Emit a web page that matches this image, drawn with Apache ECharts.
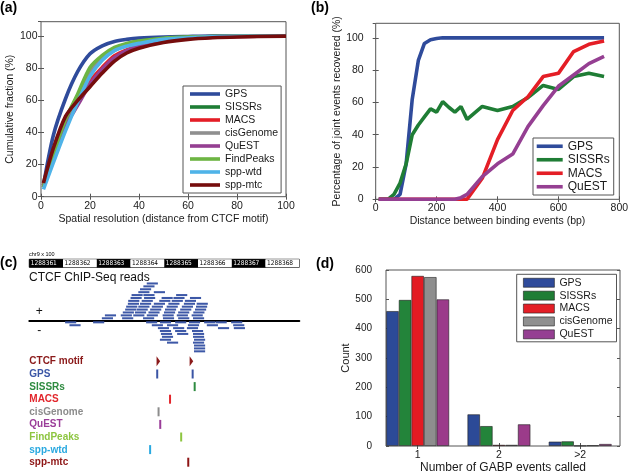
<!DOCTYPE html>
<html><head><meta charset="utf-8">
<script src="https://cdn.jsdelivr.net/npm/echarts@6/dist/echarts.min.js"></script>
<style>html,body{margin:0;padding:0;background:#fff}#c{width:629px;height:472px}</style>
</head><body><div id="c"></div>
<script>
// ---------- Panel (a): cumulative fraction vs spatial resolution ----------
const xA = [1, 5, 10, 15, 20, 25, 30, 35, 40, 50, 60, 70, 80, 100];
const aGPS       = [7, 38, 61, 78, 89, 94, 96.7, 98, 98.8, 99.5, 99.8, 100, 100, 100];
const aSISSRs    = [6, 26, 48, 63, 78.5, 87, 92.4, 95, 96.8, 98.5, 99.3, 99.7, 99.9, 100];
const aMACS      = [7, 27, 46, 60, 72, 80.5, 87.8, 91.5, 94, 97, 98.5, 99.4, 99.8, 100];
const aCisGenome = [6, 25, 46, 62, 77.5, 86, 91.3, 94, 96, 98.3, 99.2, 99.6, 99.9, 100];
const aQuEST     = [6, 24, 44, 57, 70, 79.5, 86.8, 91, 93.8, 97, 98.6, 99.4, 99.8, 100];
const aFindPeaks = [6, 26, 48, 64, 80.5, 88, 93, 95.5, 97, 98.7, 99.4, 99.7, 99.9, 100];
const aSppWtd    = [4.5, 21, 41, 59, 75, 85, 91, 93.8, 95.5, 98, 99, 99.6, 99.9, 100];
const aSppMtc    = [8.5, 30, 50, 60, 68.5, 77, 84.5, 89.5, 92.5, 96, 98, 99, 99.5, 100];
const namesA = ['GPS','SISSRs','MACS','cisGenome','QuEST','FindPeaks','spp-wtd','spp-mtc'];
const valuesA = [aGPS, aSISSRs, aMACS, aCisGenome, aQuEST, aFindPeaks, aSppWtd, aSppMtc];

// ---------- Panel (b): joint events recovered ----------
const xB = [10, 20, 40, 60, 80, 100, 120, 140, 160, 180, 200, 220, 240, 260, 280, 300, 350, 400, 450, 500, 550, 600, 650, 700, 750];
const bGPS    = [0,0,0,0,3,22,62,86,96.5,98.8,99.6,100,100,100,100,100,100,100,100,100,100,100,100,100,100];
const bSISSRs = [0,0,0,3,10,22,40,46,51,56,54,60.5,57,54,57.5,49.5,57.5,55,57.5,63,70.5,68,76,78,76];
const bMACS   = [0,0,0,0,0,0,0,0,0,0,0,0,0,0,0,0,13,37,55,63.5,76,78,91.5,96,98];
const bQuEST  = [0,0,0,0,0,0,0,0,0,0,0,0,0,0,1,3,14,22,28,45,58,70,77,84,88.5];
const namesB = ['GPS','SISSRs','MACS','QuEST'];
const valuesB = [bGPS, bSISSRs, bMACS, bQuEST];

// ---------- Panel (c): CTCF ChIP-Seq reads (bp offset from 1288361 x 100) ----------
const rulerStarts = [0, 100, 200, 300, 400, 500, 600, 700];
const rulerLabels = ['1288361','1288362','1288363','1288364','1288365','1288366','1288367','1288368'];
const readLen = 33;
const plusReads = [
  [215,0],[275,0],[337,0],[396,0],[441,0],[485,0],
  [224,1],[271,1],[308,1],[348,1],[395,1],[437,1],[481,1],
  [277,2],[313,2],[353,2],[399,2],[441,2],[486,2],
  [284,3],[318,3],[358,3],[402,3],[447,3],[491,3],
  [287,4],[323,4],[363,4],[407,4],[452,4],[494,4],
  [292,5],[328,5],[369,5],[412,5],[458,5],[496,5],
  [293,6],[333,6],[385,6],[422,6],[461,6],
  [300,7],[340,7],[392,7],[427,7],[476,7],
  [303,8],[338,8],[435,8],
  [323,9],[369,9],
  [328,10],[338,11],[348,12]
];
const minusReads = [
  [106,0],[189,0],[346,0],[387,0],[432,0],[473,0],[518,0],[552,0],[598,0],
  [119,1],[363,1],[408,1],[470,1],[526,1],[604,1],
  [381,2],[426,2],[467,2],[559,2],[606,2],
  [387,3],[432,3],[482,3],
  [390,4],[438,4],[485,4],
  [393,5],[485,5],
  [387,6],[488,6],
  [408,7],[485,7],
  [488,8],[488,9],[488,10]
];
const toolNames = ['CTCF motif','GPS','SISSRs','MACS','cisGenome','QuEST','FindPeaks','spp-wtd','spp-mtc'];
const toolCalls = [[380,478],[379,484],[490],[417],[383],[388],[450],[358],[471]];

// ---------- Panel (d): number of GABP events called ----------
const groupLabels = ['1','2','>2'];
const groupPos = [1, 2, 3];
const dGPS       = [460, 108, 15];
const dSISSRs    = [498, 68, 16];
const dMACS      = [580, 4, 1];
const dCisGenome = [576, 4, 2];
const dQuEST     = [500, 74, 7];
const namesD = ['GPS','SISSRs','MACS','cisGenome','QuEST'];
const valuesD = [dGPS, dSISSRs, dMACS, dCisGenome, dQuEST];

// ---------- styles ----------
const F = 'Liberation Sans, Arial, Helvetica, sans-serif';
const frameColor = '#555';
const txt = '#1a1a1a';
const lineColors = {'GPS':'#2F4B9B','SISSRs':'#1F7D35','MACS':'#E41E26','cisGenome':'#8F8F8F','QuEST':'#953F92','FindPeaks':'#6DB543','spp-wtd':'#4FB3E8','spp-mtc':'#760D0D'};
const barColors = {'GPS':'#2C4A97','SISSRs':'#23843A','MACS':'#E31B23','cisGenome':'#8E8E8E','QuEST':'#9B3B8A'};
const toolColors = ['#8B1A1A','#3A55A5','#2E8B40','#E2262C','#8C8C8C','#9A3C98','#8DC540','#2AA9E0','#8E1515'];

function tickStyle(){ return {show:true, inside:true, length:3, lineStyle:{color:frameColor, width:1}}; }
function gridBox(l,t,w,h){ return {left:l, top:t, width:w, height:h, show:true, borderColor:frameColor, borderWidth:1, backgroundColor:'transparent', containLabel:false, outerBoundsMode:'none'}; }

const grids = [
  gridBox(41, 21.7, 245, 175),          // a
  gridBox(375.7, 23.3, 243.6, 176),     // b
  Object.assign(gridBox(29.3, 259.3, 270, 8), {borderColor:'#000'}), // c ruler
  {left:29.3, top:279.7, width:270, height:81.2, show:false, outerBoundsMode:'none'},   // c reads
  {left:29.3, top:355.4, width:270, height:113.4, show:false, outerBoundsMode:'none'},  // c calls
  gridBox(386, 270, 234, 176)           // d
];

const nameStyle = {fontSize:10.5, color:txt, fontFamily:F};

const xAxes = [
  {gridIndex:0, type:'value', min:0, max:100, interval:20, position:'bottom', axisLine:{show:false}, splitLine:{show:false},
   axisTick:tickStyle(), axisLabel:{fontSize:10.5, color:txt, margin:4},
   name:'Spatial resolution (distance from CTCF motif)', nameLocation:'middle', nameGap:17, nameTextStyle:nameStyle},
  {gridIndex:0, type:'value', min:0, max:100, interval:20, position:'top', axisLine:{show:false}, splitLine:{show:false},
   axisTick:tickStyle(), axisLabel:{show:false}},
  {gridIndex:1, type:'value', min:0, max:800, interval:200, position:'bottom', axisLine:{show:false}, splitLine:{show:false},
   axisTick:tickStyle(), axisLabel:{fontSize:10.5, color:txt, margin:3},
   name:'Distance between binding events (bp)', nameLocation:'middle', nameGap:16, nameTextStyle:nameStyle},
  {gridIndex:1, type:'value', min:0, max:800, interval:200, position:'top', axisLine:{show:false}, splitLine:{show:false},
   axisTick:tickStyle(), axisLabel:{show:false}},
  {gridIndex:2, type:'value', min:0, max:800, show:false},
  {gridIndex:3, type:'value', min:0, max:800, axisLine:{show:true, onZero:true, lineStyle:{color:'#000', width:2}},
   axisTick:{show:false}, axisLabel:{show:false}, splitLine:{show:false}},
  {gridIndex:4, type:'value', min:0, max:800, show:false},
  {gridIndex:5, type:'value', min:0.61, max:3.49, position:'bottom', axisLine:{show:false}, splitLine:{show:false},
   axisTick:{show:true, inside:true, length:3, lineStyle:{color:frameColor}, customValues:groupPos},
   axisLabel:{fontSize:10.5, color:txt, margin:4, customValues:groupPos, formatter:(v)=>groupLabels[groupPos.indexOf(Math.round(v))]},
   name:'Number of GABP events called', nameLocation:'middle', nameGap:16, nameTextStyle:{fontSize:12, color:txt, fontFamily:F}},
  {gridIndex:5, type:'value', min:0.61, max:3.49, position:'top', axisLine:{show:false}, splitLine:{show:false},
   axisTick:{show:true, inside:true, length:3, lineStyle:{color:frameColor}, customValues:groupPos}, axisLabel:{show:false}}
];

const yAxes = [
  {gridIndex:0, type:'value', min:0, max:109, interval:20, position:'left', axisLine:{show:false}, splitLine:{show:false},
   axisTick:tickStyle(), axisLabel:{fontSize:10.5, color:txt, margin:3.5, showMaxLabel:false},
   name:'Cumulative fraction (%)', nameLocation:'middle', nameGap:25, nameTextStyle:nameStyle},
  {gridIndex:0, type:'value', min:0, max:109, interval:20, position:'right', axisLine:{show:false}, splitLine:{show:false},
   axisTick:tickStyle(), axisLabel:{show:false}},
  {gridIndex:1, type:'value', min:0, max:109, interval:20, position:'left', axisLine:{show:false}, splitLine:{show:false},
   axisTick:tickStyle(), axisLabel:{fontSize:10.5, color:txt, margin:12, showMaxLabel:false},
   name:'Percentage of joint events recovered (%)', nameLocation:'middle', nameGap:27, nameTextStyle:nameStyle},
  {gridIndex:1, type:'value', min:0, max:109, interval:20, position:'right', axisLine:{show:false}, splitLine:{show:false},
   axisTick:tickStyle(), axisLabel:{show:false}},
  {gridIndex:2, type:'value', min:0, max:1, show:false},
  {gridIndex:3, type:'value', min:-14, max:14, show:false},
  {gridIndex:4, type:'category', data:toolNames, inverse:true, axisLine:{show:false}, axisTick:{show:false}, splitLine:{show:false},
   axisLabel:{inside:true, margin:0, interval:0, formatter:(v,i)=>'{c'+i+'|'+v+'}',
     rich:Object.fromEntries(toolColors.map((c,i)=>['c'+i,{color:c, fontWeight:'bold', fontSize:10, fontFamily:F}]))}},
  {gridIndex:5, type:'value', min:0, max:600, interval:100, position:'left', axisLine:{show:false}, splitLine:{show:false},
   axisTick:tickStyle(), axisLabel:{fontSize:10, color:txt, margin:14},
   name:'Count', nameLocation:'middle', nameGap:35, nameTextStyle:{fontSize:11, color:txt, fontFamily:F}},
  {gridIndex:5, type:'value', min:0, max:600, interval:100, position:'right', axisLine:{show:false}, splitLine:{show:false},
   axisTick:tickStyle(), axisLabel:{show:false}}
];

const series = [];
namesA.forEach((n,i)=>{
  series.push({name:n, type:'line', xAxisIndex:0, yAxisIndex:0, data:xA.map((x,j)=>[x, valuesA[i][j]]),
    showSymbol:false, smooth:0.3, lineStyle:{color:lineColors[n], width:3.6}, itemStyle:{color:lineColors[n]}, z:2+i});
});
namesB.forEach((n,i)=>{
  series.push({name:n, type:'line', xAxisIndex:2, yAxisIndex:2, data:xB.map((x,j)=>[x, valuesB[i][j]]),
    showSymbol:false, lineStyle:{color:lineColors[n], width:3.6}, itemStyle:{color:lineColors[n]}, z:2+i});
});
// ruler
series.push({type:'custom', xAxisIndex:4, yAxisIndex:4, data:rulerStarts.map((s,i)=>[s,i]), silent:true,
  renderItem:(params, api)=>{
    const s = api.value(0), i = params.dataIndex;
    const a = api.coord([s, 1]), b = api.coord([s+100, 0]);
    const dark = i % 2 === 0;
    return {type:'group', children:[
      {type:'rect', shape:{x:a[0], y:a[1], width:b[0]-a[0], height:b[1]-a[1]}, style:{fill: dark ? '#000' : '#fff'}},
      {type:'text', x:a[0]+1.5, y:(a[1]+b[1])/2+0.5, style:{text:rulerLabels[i], fill: dark ? '#fff' : '#000',
        font:'6.5px "Liberation Sans Narrow", "DejaVu Sans Condensed", sans-serif', align:'left', verticalAlign:'middle'}}
    ]};
  }});
function readRender(sign){
  return (params, api)=>{
    const s = api.value(0), r = api.value(1);
    const p0 = api.coord([s, sign*(r+0.35)]);
    const p1 = api.coord([s+readLen, sign*(r+1.05)]);
    return {type:'rect', shape:{x:p0[0], y:Math.min(p0[1],p1[1]), width:p1[0]-p0[0], height:Math.abs(p1[1]-p0[1])},
      style:{fill:'#3D58A7'}};
  };
}
series.push({type:'custom', xAxisIndex:5, yAxisIndex:5, data:plusReads, renderItem:readRender(1), silent:true});
series.push({type:'custom', xAxisIndex:5, yAxisIndex:5, data:minusReads, renderItem:readRender(-1), silent:true});
// tool calls
const callData = [];
toolCalls.forEach((arr,i)=>arr.forEach(p=>callData.push([p, i])));
series.push({type:'custom', xAxisIndex:6, yAxisIndex:6, data:callData, silent:true,
  renderItem:(params, api)=>{
    const i = api.value(1);
    const c = api.coord([api.value(0), i]);
    const col = toolColors[i];
    if (i === 0) {
      return {type:'polygon', shape:{points:[[c[0]-1,c[1]-5.5],[c[0]+2.6,c[1]-0.5],[c[0]-1,c[1]+4.5]]}, style:{fill:col}};
    }
    return {type:'rect', shape:{x:c[0]-1, y:c[1]-4.8, width:2, height:9}, style:{fill:col}};
  }});
// bars
namesD.forEach((n,i)=>{
  series.push({name:n, type:'bar', xAxisIndex:7, yAxisIndex:7, data:groupPos.map((x,j)=>[x, valuesD[i][j]]),
    barWidth:12.6, barGap:'0%', itemStyle:{color:barColors[n], borderColor:'rgba(30,30,30,0.75)', borderWidth:0.8}});
});

const legends = [
  {data:namesA, orient:'vertical', left:183, top:86, itemWidth:30, itemHeight:3.6, itemGap:0, icon:'rect', selectedMode:false,
   padding:[1.5,3,1.5,7], borderColor:frameColor, borderWidth:1, backgroundColor:'#fff', itemStyle:{borderWidth:0},
   textStyle:{fontSize:10.5, lineHeight:13, color:txt, fontFamily:F}},
  {data:namesB, orient:'vertical', left:533, top:138, itemWidth:26, itemHeight:3.6, itemGap:0, icon:'rect', selectedMode:false,
   padding:[1.5,4,1.5,3.7], borderColor:frameColor, borderWidth:1, backgroundColor:'#fff', itemStyle:{borderWidth:0},
   textStyle:{fontSize:12, lineHeight:13.5, color:txt, fontFamily:F}},
  {data:namesD, orient:'vertical', left:516.7, top:274.3, itemWidth:31, itemHeight:9, itemGap:0, icon:'rect', selectedMode:false,
   padding:[2,4,1,6.3], borderColor:frameColor, borderWidth:1, backgroundColor:'#fff',
   itemStyle:{borderWidth:0.8, borderColor:'rgba(30,30,30,0.75)'},
   textStyle:{fontSize:10.5, lineHeight:12.9, color:txt, fontFamily:F}}
];

const graphics = [
  {type:'text', x:0, y:8, style:{text:'(a)', font:'bold 14px '+F, fill:'#000', verticalAlign:'middle'}},
  {type:'text', x:311, y:8, style:{text:'(b)', font:'bold 14px '+F, fill:'#000', verticalAlign:'middle'}},
  {type:'text', x:0, y:263, style:{text:'(c)', font:'bold 14px '+F, fill:'#000', verticalAlign:'middle'}},
  {type:'text', x:316, y:264, style:{text:'(d)', font:'bold 14px '+F, fill:'#000', verticalAlign:'middle'}},
  {type:'text', x:29, y:254, style:{text:'chr9 x 100', font:'5.5px "Liberation Sans Narrow", sans-serif', fill:'#000', verticalAlign:'middle'}},
  {type:'text', x:29, y:277.7, style:{text:'CTCF ChIP-Seq reads', font:'12px '+F, fill:'#111', verticalAlign:'middle'}},
  {type:'text', x:39.3, y:311.7, style:{text:'+', font:'12px '+F, fill:'#111', align:'center', verticalAlign:'middle'}},
  {type:'text', x:39.3, y:330.7, style:{text:'-', font:'12px '+F, fill:'#111', align:'center', verticalAlign:'middle'}}
];

const chart = echarts.init(document.getElementById('c'), null, {renderer:'canvas', width:629, height:472});
chart.setOption({
  animation:false,
  backgroundColor:'#fff',
  textStyle:{fontFamily:F},
  grid:grids, xAxis:xAxes, yAxis:yAxes, series:series, legend:legends, graphic:graphics
});
</script></body></html>
